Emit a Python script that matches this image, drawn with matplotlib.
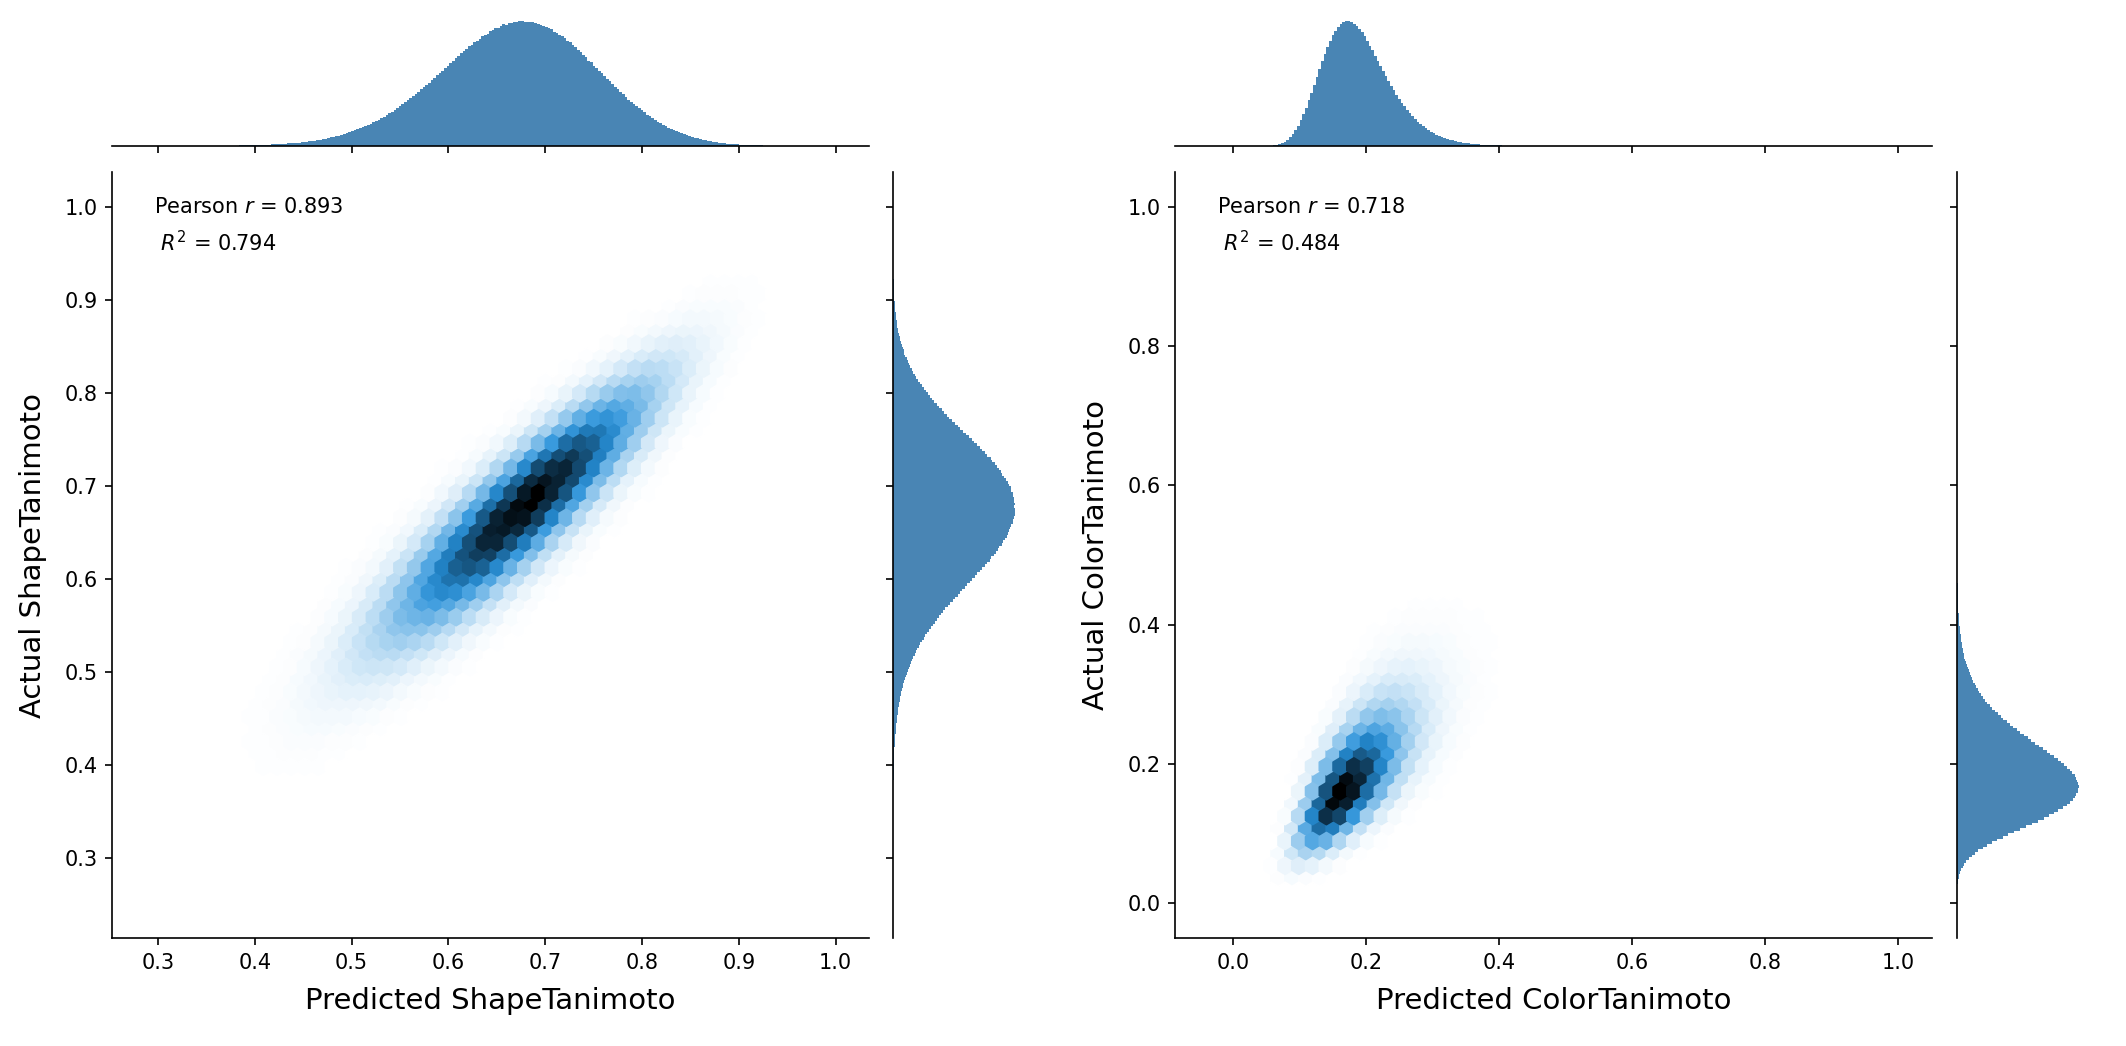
import colorsys

import numpy as np
import matplotlib
matplotlib.use("Agg")
import matplotlib.pyplot as plt
from matplotlib.colors import LinearSegmentedColormap


# values
names = ["Shape", "Color"]
pearson_r = [0.893, 0.718]
r_squared = [0.794, 0.484]

# predicted (x) distribution: mode, spread, skew
pred_mode = [0.677, 0.172]
pred_spread = [0.081, 0.050]
pred_skew = [-0.05, 0.22]
# actual (y) distribution: mode, spread, skew
act_mode = [0.676, 0.167]
act_spread = [0.081, 0.063]
act_skew = [-0.05, 0.22]

# data extents (min, max) of predicted / actual values
pred_range = [(0.288, 0.999), (-0.036, 0.999)]
act_range = [(0.251, 1.0), (0.0, 1.0)]


def stretch(z, mode, spread, skew):
    # skewed transform of a standard normal, peaking at `mode`
    loc = mode - spread * np.expm1(-skew ** 2) / skew
    return loc + spread * np.expm1(skew * z) / skew


def hex_cmap(color="#1f77b4"):
    # same ramp as seaborn's jointplot hex: white -> colour -> black
    h, l, s = colorsys.rgb_to_hls(*matplotlib.colors.to_rgb(color))
    cols = [colorsys.hls_to_rgb(h, li, s) for li in np.linspace(1, 0, 12)]
    return LinearSegmentedColormap.from_list("hexblue", cols)


cmap = hex_cmap()
bar_color = "#4985b4"

W, H = 2126, 1046
fig = plt.figure(figsize=(W / 150, H / 150), dpi=150)


def px_axes(left, top, right, bottom):
    return fig.add_axes([left / W, 1 - bottom / H, (right - left) / W, (bottom - top) / H])


layout = [
    dict(main=(112, 172, 869, 938), top=(112, 15, 869, 146), side=(893, 172, 1021, 938)),
    dict(main=(1175, 172, 1932, 938), top=(1175, 15, 1932, 146), side=(1957, 172, 2085, 938)),
]

# grids in normal space
g2 = np.arange(-4.5, 4.5, 0.008)
U, V = np.meshgrid(g2, g2)
U, V = U.ravel(), V.ravel()
W2 = np.exp(-(U ** 2 + V ** 2) / 2)
g1 = np.linspace(-5, 5, 40001)
W1 = np.exp(-g1 ** 2 / 2)

for i, name in enumerate(names):
    rho = pearson_r[i]
    x = stretch(U, pred_mode[i], pred_spread[i], pred_skew[i])
    y = stretch(rho * U + np.sqrt(1 - rho ** 2) * V,
                act_mode[i], act_spread[i], act_skew[i])
    (x0, x1), (y0, y1) = pred_range[i], act_range[i]
    keep = (x >= x0) & (x <= x1) & (y >= y0) & (y <= y1) & (W2 > 1e-7)

    lay = layout[i]
    ax = px_axes(*lay["main"])
    ax.hexbin(x[keep], y[keep], C=W2[keep], reduce_C_function=np.sum,
              gridsize=50, extent=(x0, x1, y0, y1), cmap=cmap)
    dx, dy = (x1 - x0) * 0.05, (y1 - y0) * 0.05
    ax.set_xlim(x0 - dx, x1 + dx)
    ax.set_ylim(y0 - dy, y1 + dy)
    ax.spines[["top", "right"]].set_visible(False)
    ax.tick_params(labelsize=10)
    ax.set_xlabel("Predicted %sTanimoto" % name, fontsize=14, labelpad=7)
    ax.set_ylabel("Actual %sTanimoto" % name, fontsize=14, labelpad=8)
    ax.text(0.055, 0.967, "Pearson $r$ = %.3f\n $R^2$ = %.3f" % (pearson_r[i], r_squared[i]),
            transform=ax.transAxes, va="top", ha="left", fontsize=10, linespacing=1.6)

    # marginal histograms
    xm = stretch(g1, pred_mode[i], pred_spread[i], pred_skew[i])
    ym = stretch(g1, act_mode[i], act_spread[i], act_skew[i])
    mx = (xm >= x0) & (xm <= x1)
    my = (ym >= y0) & (ym <= y1)

    axt = px_axes(*lay["top"])
    n, _, _ = axt.hist(xm[mx], bins=np.linspace(x0, x1, 260), weights=W1[mx],
                       color=bar_color, edgecolor="none")
    axt.set_ylim(0, n.max() * 1.05)
    axt.spines[["top", "right", "left"]].set_visible(False)
    axt.set_yticks([])
    axt.set_xticks(ax.get_xticks())
    axt.set_xlim(ax.get_xlim())
    axt.tick_params(labelbottom=False)

    axs = px_axes(*lay["side"])
    n, _, _ = axs.hist(ym[my], bins=np.linspace(y0, y1, 260), weights=W1[my],
                       color=bar_color, edgecolor="none", orientation="horizontal")
    axs.set_xlim(0, n.max() * 1.05)
    axs.spines[["top", "right", "bottom"]].set_visible(False)
    axs.set_xticks([])
    axs.set_yticks(ax.get_yticks())
    axs.set_ylim(ax.get_ylim())
    axs.tick_params(labelleft=False)

fig.savefig("out.png", dpi=150)
